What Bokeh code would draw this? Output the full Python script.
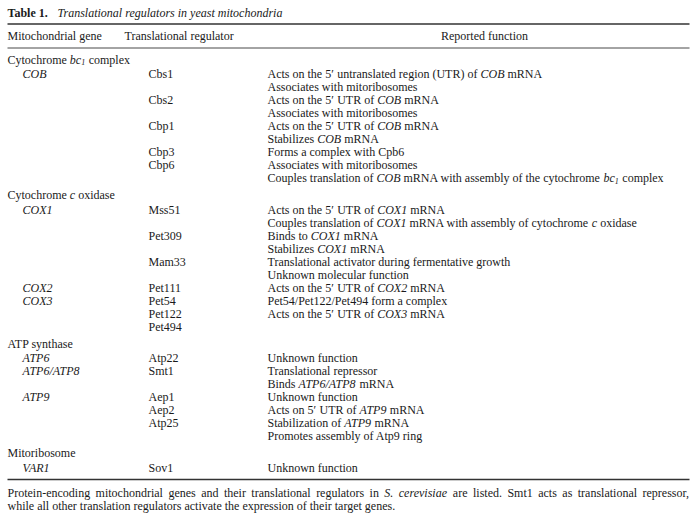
from bokeh.plotting import figure
from bokeh.models import ColumnDataSource, Range1d
from bokeh.core.properties import value
from bokeh.embed import file_html
from bokeh.resources import INLINE

# ---------------- table content ----------------
title_bold = "Table 1."
title_italic = "Translational regulators in yeast mitochondria"
col_headers = ["Mitochondrial gene", "Translational regulator", "Reported function"]

section_names = ["Cytochrome *bc*~1~ complex", "Cytochrome *c* oxidase",
                 "ATP synthase", "Mitoribosome"]

sec1_genes = ["COB", "", "", "", "", "", "", "", ""]
sec1_regs = ["Cbs1", "", "Cbs2", "", "Cbp1", "", "Cbp3", "Cbp6", ""]
sec1_funcs = [
    "Acts on the 5′ untranslated region (UTR) of *COB* mRNA",
    "Associates with mitoribosomes",
    "Acts on the 5′ UTR of *COB* mRNA",
    "Associates with mitoribosomes",
    "Acts on the 5′ UTR of *COB* mRNA",
    "Stabilizes *COB* mRNA",
    "Forms a complex with Cpb6",
    "Associates with mitoribosomes",
    "Couples translation of *COB* mRNA with assembly of the cytochrome *bc*~1~ complex",
]

sec2_genes = ["COX1", "", "", "", "", "", "COX2", "COX3", "", ""]
sec2_regs = ["Mss51", "", "Pet309", "", "Mam33", "", "Pet111", "Pet54", "Pet122", "Pet494"]
sec2_funcs = [
    "Acts on the 5′ UTR of *COX1* mRNA",
    "Couples translation of *COX1* mRNA with assembly of cytochrome *c* oxidase",
    "Binds to *COX1* mRNA",
    "Stabilizes *COX1* mRNA",
    "Translational activator during fermentative growth",
    "Unknown molecular function",
    "Acts on the 5′ UTR of *COX2* mRNA",
    "Pet54/Pet122/Pet494 form a complex",
    "Acts on the 5′ UTR of *COX3* mRNA",
    "",
]

sec3_genes = ["ATP6", "ATP6/ATP8", "", "ATP9", "", "", ""]
sec3_regs = ["Atp22", "Smt1", "", "Aep1", "Aep2", "Atp25", ""]
sec3_funcs = [
    "Unknown function",
    "Translational repressor",
    "Binds *ATP6/ATP8* mRNA",
    "Unknown function",
    "Acts on 5′ UTR of *ATP9* mRNA",
    "Stabilization of *ATP9* mRNA",
    "Promotes assembly of Atp9 ring",
]

sec4_genes = ["VAR1"]
sec4_regs = ["Sov1"]
sec4_funcs = ["Unknown function"]

footnote_1 = ("Protein-encoding mitochondrial genes and their translational regulators in "
              "*S. cerevisiae* are listed. Smt1 acts as translational repressor,")
footnote_2 = "while all other translation regulators activate the expression of their target genes."

sections = [
    (section_names[0], sec1_genes, sec1_regs, sec1_funcs),
    (section_names[1], sec2_genes, sec2_regs, sec2_funcs),
    (section_names[2], sec3_genes, sec3_regs, sec3_funcs),
    (section_names[3], sec4_genes, sec4_regs, sec4_funcs),
]

# ---------------- font metrics (Times / Liberation Serif, 1/1000 em) ----------------
ROMAN = {' ': 250, '(': 333, ')': 333, ',': 250, '-': 333, '.': 250, '/': 278, ':': 278,
         'A': 722, 'B': 667, 'C': 667, 'D': 722, 'E': 611, 'F': 556, 'G': 722, 'H': 722,
         'I': 333, 'J': 389, 'K': 722, 'L': 611, 'M': 889, 'N': 722, 'O': 722, 'P': 556,
         'Q': 722, 'R': 667, 'S': 556, 'T': 611, 'U': 722, 'V': 722, 'W': 944, 'X': 722,
         'Y': 722, 'Z': 611, 'a': 444, 'b': 500, 'c': 444, 'd': 500, 'e': 444, 'f': 333,
         'g': 500, 'h': 500, 'i': 278, 'j': 278, 'k': 500, 'l': 278, 'm': 778, 'n': 500,
         'o': 500, 'p': 500, 'q': 500, 'r': 333, 's': 389, 't': 278, 'u': 500, 'v': 500,
         'w': 722, 'x': 500, 'y': 500, 'z': 444, '′': 250}
ITALIC = {' ': 250, '(': 333, ')': 333, ',': 250, '-': 333, '.': 250, '/': 278,
          'A': 611, 'B': 611, 'C': 667, 'D': 722, 'E': 611, 'F': 611, 'G': 722, 'H': 722,
          'I': 333, 'J': 444, 'K': 667, 'L': 556, 'M': 833, 'N': 667, 'O': 722, 'P': 611,
          'Q': 722, 'R': 611, 'S': 500, 'T': 556, 'U': 722, 'V': 611, 'W': 833, 'X': 611,
          'Y': 556, 'Z': 556, 'a': 500, 'b': 500, 'c': 444, 'd': 500, 'e': 444, 'f': 278,
          'g': 500, 'h': 500, 'i': 278, 'j': 278, 'k': 444, 'l': 278, 'm': 722, 'n': 500,
          'o': 500, 'p': 500, 'q': 500, 'r': 389, 's': 389, 't': 278, 'u': 500, 'v': 444,
          'w': 667, 'x': 444, 'y': 444, 'z': 389, '′': 250}
BOLD = {' ': 250, '.': 250, 'T': 667, 'a': 500, 'b': 556, 'l': 278, 'e': 444}
METRICS = {'normal': ROMAN, 'italic': ITALIC, 'bold': BOLD}

FS = 12.0          # main font size, px
SUB_FS = 8.0
FONT = "Liberation Serif"
INK = "#1a1a1a"


def text_width(s, style, size):
    tab = METRICS[style]
    return sum(tab.get(ch, 500) for ch in s) * size / 1000.0


def parse(markup, italic_all=False):
    pieces, buf = [], ""
    style = 'italic' if italic_all else 'normal'
    sub = False

    def flush():
        nonlocal buf
        if buf:
            pieces.append((buf, style, sub))
        buf = ""
    for ch in markup:
        if ch == '*':
            flush()
            style = 'normal' if style == 'italic' else 'italic'
        elif ch == '~':
            flush()
            sub = not sub
        elif ch == '′':
            flush()
            pieces.append(('′', style, sub))
        else:
            buf += ch
    flush()
    return pieces


rows = dict(x=[], y=[], text=[], fstyle=[], size=[])


def put(x, y, text, fstyle, size):
    # SVG drops leading/trailing blanks: draw the stripped text at the right spot
    lead = len(text) - len(text.lstrip(' '))
    x += text_width(' ' * lead, 'normal', size)
    text = text.strip(' ')
    if not text:
        return
    rows['x'].append(x)
    rows['y'].append(y)
    rows['text'].append(text)
    rows['fstyle'].append(fstyle)
    rows['size'].append("%.2fpx" % size)


def draw_markup(markup, x0, base, italic_all=False):
    x = x0
    for txt, style, sub in parse(markup, italic_all):
        if sub:
            put(x, base + 2.5, txt, 'italic', SUB_FS)
            x += text_width(txt, 'normal', SUB_FS) + 0.5
        else:
            put(x, base, txt, style, FS)
            x += text_width(txt, style, FS)
    return x


# ---------------- layout (coordinates are page pixels) ----------------
LEFT, RIGHT = 7, 689
X_SECTION, X_GENE, X_REG, X_FUNC = 7, 22, 148, 267
X_HDR_REG, X_HDR_FUNC = 124, 484
STEP = 13
rules = dict(x0=[], x1=[], y=[], w=[])

# title
TITLE_BASE = 12.5
put(LEFT, TITLE_BASE, title_bold, 'bold', FS)
put(57, TITLE_BASE, title_italic, 'italic', FS)
rules['x0'].append(LEFT); rules['x1'].append(RIGHT); rules['y'].append(23.5); rules['w'].append(1.3)

# column headers
HDR_BASE = 35.5
put(LEFT, HDR_BASE, col_headers[0], 'normal', FS)
put(X_HDR_REG, HDR_BASE, col_headers[1], 'normal', FS)
rules['x0'].append(LEFT); rules['x1'].append(RIGHT); rules['y'].append(47.5); rules['w'].append(0.9)

base = 59.0
for si, (sname, genes, regs, funcs) in enumerate(sections):
    if si > 0:
        base += 17
    draw_markup(sname, X_SECTION, base)
    base += 14.5
    for gi, (g, r, f) in enumerate(zip(genes, regs, funcs)):
        if gi > 0:
            base += STEP
        if g:
            draw_markup(g, X_GENE, base, italic_all=True)
        if r:
            draw_markup(r, X_REG, base)
        if f:
            draw_markup(f, X_FUNC, base)

rule_bottom = base + 12
rules['x0'].append(LEFT); rules['x1'].append(RIGHT); rules['y'].append(rule_bottom); rules['w'].append(1.3)

# footnote, line 1 justified
fn_base1 = rule_bottom + 13
words = []
for txt, style, sub in parse(footnote_1):
    for wd in txt.split(' '):
        if wd:
            words.append((wd, style))
natural = sum(text_width(wd, st, FS) for wd, st in words)
gap = (RIGHT - LEFT - natural) / (len(words) - 1)
x = LEFT
for wd, st in words:
    put(x, fn_base1, wd, st, FS)
    x += text_width(wd, st, FS) + gap
put(LEFT, fn_base1 + 13, footnote_2, 'normal', FS)

# ---------------- figure ----------------
W, H = 694, 516
p = figure(width=W, height=H, output_backend="svg", toolbar_location=None,
           x_range=Range1d(0, W), y_range=Range1d(H, 0),
           min_border=0, outline_line_color=None)
p.axis.visible = False
p.grid.visible = False
p.background_fill_color = "white"
p.border_fill_color = "white"

p.segment(x0='x0', y0='y', x1='x1', y1='y', line_width='w', line_color="#333333",
          source=ColumnDataSource(rules))
p.text(x='x', y='y', text='text', source=ColumnDataSource(rows),
       text_font=value(FONT), text_font_size=dict(field='size'),
       text_font_style=dict(field='fstyle'), text_align='left',
       text_baseline='alphabetic', text_color=INK)
p.text(x=[X_HDR_FUNC], y=[HDR_BASE], text=[col_headers[2]], text_font=value(FONT),
       text_font_size="%.2fpx" % FS, text_align='center', text_baseline='alphabetic',
       text_color=INK)

open("out.html", "w").write(file_html(p, INLINE))
